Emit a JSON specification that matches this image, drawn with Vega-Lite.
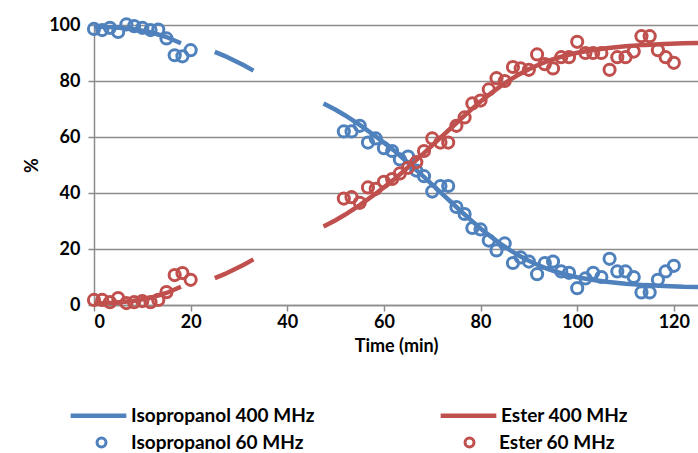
{
  "$schema": "https://vega.github.io/schema/vega-lite/v6.json",
  "width": 604,
  "height": 280,
  "autosize": {"type": "none"},
  "padding": {"left": 94, "top": 25, "right": 0, "bottom": 148},
  "background": "white",
  "config": {
    "font": "Lato",
    "view": {"stroke": null},
    "axis": {
      "labelFont": "Lato", "labelFontSize": 18, "labelFontWeight": "bold", "labelColor": "#000000",
      "titleFont": "Lato", "titleFontSize": 18, "titleFontWeight": "bold", "titleColor": "#000000",
      "domainColor": "#8c8c8c", "domainWidth": 1.5, "tickColor": "#8c8c8c", "tickWidth": 1.5,
      "gridColor": "#8c8c8c", "gridWidth": 1.5
    },
    "legend": {
      "orient": "none", "columns": 2, "padding": 0, "labelLimit": 400,
      "labelFont": "Lato", "labelFontSize": 19, "labelFontWeight": "bold", "labelColor": "#000000",
      "title": null
    }
  },
  "datasets": {
    "lines": [
      {"t": 0, "v": 99.5, "series": "Isopropanol 400 MHz", "seg": "a"},
      {"t": 4, "v": 99.2, "series": "Isopropanol 400 MHz", "seg": "a"},
      {"t": 8, "v": 98.6, "series": "Isopropanol 400 MHz", "seg": "a"},
      {"t": 12, "v": 97.3, "series": "Isopropanol 400 MHz", "seg": "a"},
      {"t": 15, "v": 95.7, "series": "Isopropanol 400 MHz", "seg": "a"},
      {"t": 18, "v": 93.5, "series": "Isopropanol 400 MHz", "seg": "a"},
      {"t": 25, "v": 90.4, "series": "Isopropanol 400 MHz", "seg": "b"},
      {"t": 27, "v": 89.0, "series": "Isopropanol 400 MHz", "seg": "b"},
      {"t": 29, "v": 87.3, "series": "Isopropanol 400 MHz", "seg": "b"},
      {"t": 31, "v": 85.6, "series": "Isopropanol 400 MHz", "seg": "b"},
      {"t": 33, "v": 83.7, "series": "Isopropanol 400 MHz", "seg": "b"},
      {"t": 47.5, "v": 72.0, "series": "Isopropanol 400 MHz", "seg": "c"},
      {"t": 50, "v": 69.7, "series": "Isopropanol 400 MHz", "seg": "c"},
      {"t": 52, "v": 67.7, "series": "Isopropanol 400 MHz", "seg": "c"},
      {"t": 55, "v": 64.3, "series": "Isopropanol 400 MHz", "seg": "c"},
      {"t": 58, "v": 60.6, "series": "Isopropanol 400 MHz", "seg": "c"},
      {"t": 60, "v": 58.0, "series": "Isopropanol 400 MHz", "seg": "c"},
      {"t": 62, "v": 55.3, "series": "Isopropanol 400 MHz", "seg": "c"},
      {"t": 64, "v": 52.3, "series": "Isopropanol 400 MHz", "seg": "c"},
      {"t": 66, "v": 49.3, "series": "Isopropanol 400 MHz", "seg": "c"},
      {"t": 68, "v": 46.2, "series": "Isopropanol 400 MHz", "seg": "c"},
      {"t": 70, "v": 43.0, "series": "Isopropanol 400 MHz", "seg": "c"},
      {"t": 72, "v": 39.8, "series": "Isopropanol 400 MHz", "seg": "c"},
      {"t": 74, "v": 36.6, "series": "Isopropanol 400 MHz", "seg": "c"},
      {"t": 76, "v": 33.4, "series": "Isopropanol 400 MHz", "seg": "c"},
      {"t": 78, "v": 30.3, "series": "Isopropanol 400 MHz", "seg": "c"},
      {"t": 80, "v": 27.3, "series": "Isopropanol 400 MHz", "seg": "c"},
      {"t": 82, "v": 24.6, "series": "Isopropanol 400 MHz", "seg": "c"},
      {"t": 84, "v": 22.0, "series": "Isopropanol 400 MHz", "seg": "c"},
      {"t": 86, "v": 19.7, "series": "Isopropanol 400 MHz", "seg": "c"},
      {"t": 88, "v": 17.6, "series": "Isopropanol 400 MHz", "seg": "c"},
      {"t": 90, "v": 15.8, "series": "Isopropanol 400 MHz", "seg": "c"},
      {"t": 92, "v": 14.2, "series": "Isopropanol 400 MHz", "seg": "c"},
      {"t": 94, "v": 12.8, "series": "Isopropanol 400 MHz", "seg": "c"},
      {"t": 96, "v": 11.7, "series": "Isopropanol 400 MHz", "seg": "c"},
      {"t": 98, "v": 10.7, "series": "Isopropanol 400 MHz", "seg": "c"},
      {"t": 100, "v": 9.9, "series": "Isopropanol 400 MHz", "seg": "c"},
      {"t": 103, "v": 9.0, "series": "Isopropanol 400 MHz", "seg": "c"},
      {"t": 106, "v": 8.3, "series": "Isopropanol 400 MHz", "seg": "c"},
      {"t": 110, "v": 7.6, "series": "Isopropanol 400 MHz", "seg": "c"},
      {"t": 114, "v": 7.1, "series": "Isopropanol 400 MHz", "seg": "c"},
      {"t": 118, "v": 6.8, "series": "Isopropanol 400 MHz", "seg": "c"},
      {"t": 122, "v": 6.5, "series": "Isopropanol 400 MHz", "seg": "c"},
      {"t": 125, "v": 6.4, "series": "Isopropanol 400 MHz", "seg": "c"},
      {"t": 0, "v": 0.5, "series": "Ester 400 MHz", "seg": "a"},
      {"t": 4, "v": 0.8, "series": "Ester 400 MHz", "seg": "a"},
      {"t": 8, "v": 1.4, "series": "Ester 400 MHz", "seg": "a"},
      {"t": 12, "v": 2.7, "series": "Ester 400 MHz", "seg": "a"},
      {"t": 15, "v": 4.3, "series": "Ester 400 MHz", "seg": "a"},
      {"t": 18, "v": 6.5, "series": "Ester 400 MHz", "seg": "a"},
      {"t": 25, "v": 9.6, "series": "Ester 400 MHz", "seg": "b"},
      {"t": 27, "v": 11.0, "series": "Ester 400 MHz", "seg": "b"},
      {"t": 29, "v": 12.7, "series": "Ester 400 MHz", "seg": "b"},
      {"t": 31, "v": 14.4, "series": "Ester 400 MHz", "seg": "b"},
      {"t": 33, "v": 16.3, "series": "Ester 400 MHz", "seg": "b"},
      {"t": 47.5, "v": 28.0, "series": "Ester 400 MHz", "seg": "c"},
      {"t": 50, "v": 30.3, "series": "Ester 400 MHz", "seg": "c"},
      {"t": 52, "v": 32.3, "series": "Ester 400 MHz", "seg": "c"},
      {"t": 55, "v": 35.7, "series": "Ester 400 MHz", "seg": "c"},
      {"t": 58, "v": 39.4, "series": "Ester 400 MHz", "seg": "c"},
      {"t": 60, "v": 42.0, "series": "Ester 400 MHz", "seg": "c"},
      {"t": 62, "v": 44.7, "series": "Ester 400 MHz", "seg": "c"},
      {"t": 64, "v": 47.7, "series": "Ester 400 MHz", "seg": "c"},
      {"t": 66, "v": 50.7, "series": "Ester 400 MHz", "seg": "c"},
      {"t": 68, "v": 53.8, "series": "Ester 400 MHz", "seg": "c"},
      {"t": 70, "v": 57.0, "series": "Ester 400 MHz", "seg": "c"},
      {"t": 72, "v": 60.2, "series": "Ester 400 MHz", "seg": "c"},
      {"t": 74, "v": 63.4, "series": "Ester 400 MHz", "seg": "c"},
      {"t": 76, "v": 66.6, "series": "Ester 400 MHz", "seg": "c"},
      {"t": 78, "v": 69.7, "series": "Ester 400 MHz", "seg": "c"},
      {"t": 80, "v": 72.7, "series": "Ester 400 MHz", "seg": "c"},
      {"t": 82, "v": 75.4, "series": "Ester 400 MHz", "seg": "c"},
      {"t": 84, "v": 78.0, "series": "Ester 400 MHz", "seg": "c"},
      {"t": 86, "v": 80.3, "series": "Ester 400 MHz", "seg": "c"},
      {"t": 88, "v": 82.4, "series": "Ester 400 MHz", "seg": "c"},
      {"t": 90, "v": 84.2, "series": "Ester 400 MHz", "seg": "c"},
      {"t": 92, "v": 85.8, "series": "Ester 400 MHz", "seg": "c"},
      {"t": 94, "v": 87.2, "series": "Ester 400 MHz", "seg": "c"},
      {"t": 96, "v": 88.3, "series": "Ester 400 MHz", "seg": "c"},
      {"t": 98, "v": 89.3, "series": "Ester 400 MHz", "seg": "c"},
      {"t": 100, "v": 90.1, "series": "Ester 400 MHz", "seg": "c"},
      {"t": 103, "v": 91.0, "series": "Ester 400 MHz", "seg": "c"},
      {"t": 106, "v": 91.7, "series": "Ester 400 MHz", "seg": "c"},
      {"t": 110, "v": 92.4, "series": "Ester 400 MHz", "seg": "c"},
      {"t": 114, "v": 92.9, "series": "Ester 400 MHz", "seg": "c"},
      {"t": 118, "v": 93.2, "series": "Ester 400 MHz", "seg": "c"},
      {"t": 122, "v": 93.5, "series": "Ester 400 MHz", "seg": "c"},
      {"t": 125, "v": 93.6, "series": "Ester 400 MHz", "seg": "c"}
    ],
    "points": [
      {"t": 0, "v": 98.6, "series": "Isopropanol 60 MHz"},
      {"t": 1.7, "v": 98.2, "series": "Isopropanol 60 MHz"},
      {"t": 3.3, "v": 99.0, "series": "Isopropanol 60 MHz"},
      {"t": 5, "v": 97.5, "series": "Isopropanol 60 MHz"},
      {"t": 6.7, "v": 100.2, "series": "Isopropanol 60 MHz"},
      {"t": 8.3, "v": 99.6, "series": "Isopropanol 60 MHz"},
      {"t": 10, "v": 99.0, "series": "Isopropanol 60 MHz"},
      {"t": 11.7, "v": 98.2, "series": "Isopropanol 60 MHz"},
      {"t": 13.3, "v": 98.4, "series": "Isopropanol 60 MHz"},
      {"t": 15, "v": 95.2, "series": "Isopropanol 60 MHz"},
      {"t": 16.7, "v": 89.2, "series": "Isopropanol 60 MHz"},
      {"t": 18.3, "v": 88.8, "series": "Isopropanol 60 MHz"},
      {"t": 20, "v": 91.0, "series": "Isopropanol 60 MHz"},
      {"t": 51.7, "v": 62.0, "series": "Isopropanol 60 MHz"},
      {"t": 53.3, "v": 62.0, "series": "Isopropanol 60 MHz"},
      {"t": 55, "v": 64.0, "series": "Isopropanol 60 MHz"},
      {"t": 56.7, "v": 58.0, "series": "Isopropanol 60 MHz"},
      {"t": 58.3, "v": 59.5, "series": "Isopropanol 60 MHz"},
      {"t": 60, "v": 56.0, "series": "Isopropanol 60 MHz"},
      {"t": 61.7, "v": 55.0, "series": "Isopropanol 60 MHz"},
      {"t": 63.3, "v": 52.0, "series": "Isopropanol 60 MHz"},
      {"t": 65, "v": 53.0, "series": "Isopropanol 60 MHz"},
      {"t": 66.7, "v": 48.0, "series": "Isopropanol 60 MHz"},
      {"t": 68.3, "v": 46.0, "series": "Isopropanol 60 MHz"},
      {"t": 70, "v": 40.5, "series": "Isopropanol 60 MHz"},
      {"t": 71.7, "v": 42.5, "series": "Isopropanol 60 MHz"},
      {"t": 73.3, "v": 42.5, "series": "Isopropanol 60 MHz"},
      {"t": 75, "v": 35.0, "series": "Isopropanol 60 MHz"},
      {"t": 76.7, "v": 32.5, "series": "Isopropanol 60 MHz"},
      {"t": 78.3, "v": 27.5, "series": "Isopropanol 60 MHz"},
      {"t": 80, "v": 27.0, "series": "Isopropanol 60 MHz"},
      {"t": 81.7, "v": 23.0, "series": "Isopropanol 60 MHz"},
      {"t": 83.3, "v": 19.5, "series": "Isopropanol 60 MHz"},
      {"t": 85, "v": 22.0, "series": "Isopropanol 60 MHz"},
      {"t": 86.7, "v": 15.0, "series": "Isopropanol 60 MHz"},
      {"t": 88.3, "v": 17.0, "series": "Isopropanol 60 MHz"},
      {"t": 90, "v": 15.5, "series": "Isopropanol 60 MHz"},
      {"t": 91.7, "v": 11.0, "series": "Isopropanol 60 MHz"},
      {"t": 93.3, "v": 15.0, "series": "Isopropanol 60 MHz"},
      {"t": 95, "v": 15.5, "series": "Isopropanol 60 MHz"},
      {"t": 96.7, "v": 12.0, "series": "Isopropanol 60 MHz"},
      {"t": 98.3, "v": 11.5, "series": "Isopropanol 60 MHz"},
      {"t": 100, "v": 6.0, "series": "Isopropanol 60 MHz"},
      {"t": 101.7, "v": 9.5, "series": "Isopropanol 60 MHz"},
      {"t": 103.3, "v": 11.5, "series": "Isopropanol 60 MHz"},
      {"t": 105, "v": 10.0, "series": "Isopropanol 60 MHz"},
      {"t": 106.7, "v": 16.5, "series": "Isopropanol 60 MHz"},
      {"t": 108.3, "v": 12.0, "series": "Isopropanol 60 MHz"},
      {"t": 110, "v": 12.0, "series": "Isopropanol 60 MHz"},
      {"t": 111.7, "v": 10.0, "series": "Isopropanol 60 MHz"},
      {"t": 113.3, "v": 4.5, "series": "Isopropanol 60 MHz"},
      {"t": 115, "v": 4.5, "series": "Isopropanol 60 MHz"},
      {"t": 116.7, "v": 9.0, "series": "Isopropanol 60 MHz"},
      {"t": 118.3, "v": 12.0, "series": "Isopropanol 60 MHz"},
      {"t": 120, "v": 14.0, "series": "Isopropanol 60 MHz"},
      {"t": 0, "v": 1.8, "series": "Ester 60 MHz"},
      {"t": 1.7, "v": 1.8, "series": "Ester 60 MHz"},
      {"t": 3.3, "v": 1.0, "series": "Ester 60 MHz"},
      {"t": 5, "v": 2.5, "series": "Ester 60 MHz"},
      {"t": 6.7, "v": 0.7, "series": "Ester 60 MHz"},
      {"t": 8.3, "v": 1.0, "series": "Ester 60 MHz"},
      {"t": 10, "v": 1.4, "series": "Ester 60 MHz"},
      {"t": 11.7, "v": 1.0, "series": "Ester 60 MHz"},
      {"t": 13.3, "v": 1.8, "series": "Ester 60 MHz"},
      {"t": 15, "v": 4.6, "series": "Ester 60 MHz"},
      {"t": 16.7, "v": 10.7, "series": "Ester 60 MHz"},
      {"t": 18.3, "v": 11.4, "series": "Ester 60 MHz"},
      {"t": 20, "v": 9.0, "series": "Ester 60 MHz"},
      {"t": 51.7, "v": 38.0, "series": "Ester 60 MHz"},
      {"t": 53.3, "v": 38.5, "series": "Ester 60 MHz"},
      {"t": 55, "v": 36.5, "series": "Ester 60 MHz"},
      {"t": 56.7, "v": 42.0, "series": "Ester 60 MHz"},
      {"t": 58.3, "v": 41.5, "series": "Ester 60 MHz"},
      {"t": 60, "v": 44.0, "series": "Ester 60 MHz"},
      {"t": 61.7, "v": 45.0, "series": "Ester 60 MHz"},
      {"t": 63.3, "v": 47.0, "series": "Ester 60 MHz"},
      {"t": 65, "v": 49.0, "series": "Ester 60 MHz"},
      {"t": 66.7, "v": 51.0, "series": "Ester 60 MHz"},
      {"t": 68.3, "v": 55.0, "series": "Ester 60 MHz"},
      {"t": 70, "v": 59.5, "series": "Ester 60 MHz"},
      {"t": 71.7, "v": 58.0, "series": "Ester 60 MHz"},
      {"t": 73.3, "v": 58.0, "series": "Ester 60 MHz"},
      {"t": 75, "v": 64.0, "series": "Ester 60 MHz"},
      {"t": 76.7, "v": 67.0, "series": "Ester 60 MHz"},
      {"t": 78.3, "v": 72.0, "series": "Ester 60 MHz"},
      {"t": 80, "v": 73.0, "series": "Ester 60 MHz"},
      {"t": 81.7, "v": 77.0, "series": "Ester 60 MHz"},
      {"t": 83.3, "v": 81.0, "series": "Ester 60 MHz"},
      {"t": 85, "v": 80.0, "series": "Ester 60 MHz"},
      {"t": 86.7, "v": 85.0, "series": "Ester 60 MHz"},
      {"t": 88.3, "v": 84.5, "series": "Ester 60 MHz"},
      {"t": 90, "v": 84.0, "series": "Ester 60 MHz"},
      {"t": 91.7, "v": 89.5, "series": "Ester 60 MHz"},
      {"t": 93.3, "v": 86.0, "series": "Ester 60 MHz"},
      {"t": 95, "v": 84.5, "series": "Ester 60 MHz"},
      {"t": 96.7, "v": 88.5, "series": "Ester 60 MHz"},
      {"t": 98.3, "v": 88.5, "series": "Ester 60 MHz"},
      {"t": 100, "v": 94.0, "series": "Ester 60 MHz"},
      {"t": 101.7, "v": 90.0, "series": "Ester 60 MHz"},
      {"t": 103.3, "v": 90.0, "series": "Ester 60 MHz"},
      {"t": 105, "v": 90.0, "series": "Ester 60 MHz"},
      {"t": 106.7, "v": 84.0, "series": "Ester 60 MHz"},
      {"t": 108.3, "v": 88.5, "series": "Ester 60 MHz"},
      {"t": 110, "v": 88.5, "series": "Ester 60 MHz"},
      {"t": 111.7, "v": 90.5, "series": "Ester 60 MHz"},
      {"t": 113.3, "v": 96.0, "series": "Ester 60 MHz"},
      {"t": 115, "v": 96.0, "series": "Ester 60 MHz"},
      {"t": 116.7, "v": 91.0, "series": "Ester 60 MHz"},
      {"t": 118.3, "v": 88.5, "series": "Ester 60 MHz"},
      {"t": 120, "v": 86.5, "series": "Ester 60 MHz"}
    ]
  },
  "encoding": {
    "x": {
      "field": "t", "type": "quantitative",
      "scale": {"domain": [0, 125], "nice": false, "zero": false},
      "axis": {"title": "Time (min)", "values": [0, 20, 40, 60, 80, 100, 120], "grid": false, "tickSize": 6, "labelPadding": 2, "titlePadding": 6}
    },
    "y": {
      "field": "v", "type": "quantitative",
      "scale": {"domain": [0, 100], "nice": false},
      "axis": {"title": "%", "values": [0, 20, 40, 60, 80, 100], "grid": true, "tickSize": 6, "labelPadding": 8, "titleX": -62, "titleY": 140, "titleAngle": -90, "titleBaseline": "middle", "titleAlign": "center"}
    }
  },
  "layer": [
    {
      "data": {"name": "lines"},
      "mark": {"type": "line", "strokeWidth": 4.5, "clip": true},
      "encoding": {
        "detail": {"field": "seg", "type": "nominal"},
        "color": {
          "field": "series", "type": "nominal",
          "scale": {"domain": ["Isopropanol 400 MHz", "Ester 400 MHz"], "range": ["#4F81BD", "#C0504D"]},
          "legend": {"symbolType": "stroke", "symbolSize": 3100, "symbolStrokeWidth": 4.5, "labelOffset": 2, "columnPadding": 116, "legendX": -26, "legendY": 360}
        }
      }
    },
    {
      "data": {"name": "points"},
      "mark": {"type": "point", "filled": false, "opacity": 1, "size": 125, "strokeWidth": 3, "shape": "circle"},
      "encoding": {
        "color": {
          "field": "series", "type": "nominal",
          "scale": {"domain": ["Isopropanol 60 MHz", "Ester 60 MHz"], "range": ["#4F81BD", "#C0504D"]},
          "legend": {"symbolType": "circle", "symbolSize": 80, "symbolStrokeWidth": 3, "symbolOffset": 24, "labelOffset": 20, "columnPadding": 132, "legendX": -26, "legendY": 408}
        }
      }
    }
  ],
  "resolve": {"scale": {"color": "independent"}, "legend": {"color": "independent"}}
}
